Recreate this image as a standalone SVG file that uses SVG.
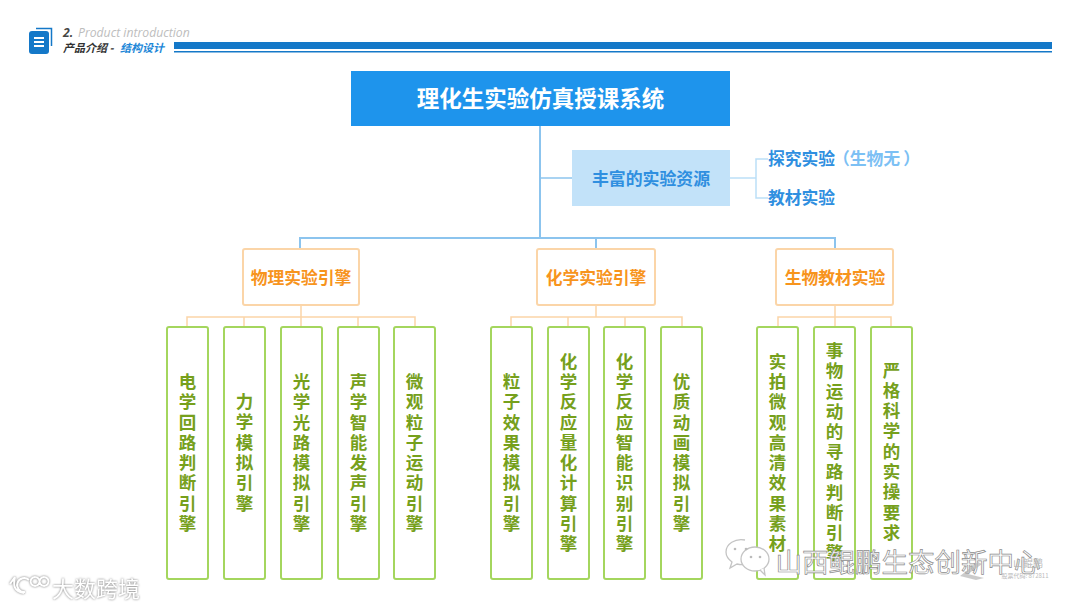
<svg xmlns="http://www.w3.org/2000/svg" width="1080" height="608" viewBox="0 0 1080 608">
<style>
text{font-family:"Noto Sans CJK SC","Noto Sans",sans-serif;font-weight:700;text-anchor:middle}
.leaf{fill:#fff;stroke:#a4d65e;stroke-width:2}
.lt{fill:#76a01c;font-size:17.5px}
.eng{fill:#fff;stroke:#fbd5a8;stroke-width:2}
.et{fill:#f7941d;font-size:16.8px}
.blue{fill:none;stroke:#8cc4ee;stroke-width:2}
.pale{fill:none;stroke:#bcdff7;stroke-width:1.5}
.org{fill:none;stroke:#fbd5a8;stroke-width:1.5}
.wm{fill:#fff;stroke:#8d8d8d;stroke-width:.7;font-weight:400}
.ic{fill:#fff;stroke:#c4c4c4;stroke-width:1.3}
.glow{filter:drop-shadow(0 0 1.2px #777)}
</style>
<rect width="1080" height="608" fill="#fff"/>
<g id="header">
<path d="M36 28.500H51.500V46" fill="none" stroke="#1478c8" stroke-width="1.500"/>
<rect x="29" y="31" width="20" height="23" rx="3" fill="#1478c8"/>
<path d="M34 37h10v2H34zM34 41h10v2H34zM34 45h10v2H34z" fill="#fff"/>
<text x="63" y="37" style="text-anchor:start;font-family:'Open Sans',sans-serif;font-size:12.200px;font-style:italic;font-weight:700" fill="#444">2.</text>
<text x="78" y="37" style="text-anchor:start;font-family:'Open Sans',sans-serif;font-size:12.200px;font-style:italic;font-weight:400" fill="#bdbdbd">Product introduction</text>
<text x="63" y="52" style="text-anchor:start;font-size:11px;font-style:italic" fill="#333">产品介绍 -</text>
<text x="120" y="52" style="text-anchor:start;font-size:11px;font-style:italic" fill="#1e88d8">结构设计</text>
<rect x="174" y="42" width="878" height="7" fill="#1478c8"/>
<rect x="174" y="51" width="878" height="1.500" fill="#1478c8"/>
</g>
<g id="connectors">
<path class="blue" d="M540 126V238M300 248V238H835V248M596 238V248"/>
<path class="blue" style="stroke-width:1.500" d="M540 178H572"/>
<path class="pale" d="M730 178H756V159H768M756 178V198H768"/>
<path class="org" d="M301 306V317M187 327V317H415V327M244 317V327M301 317V327M358 317V327"/>
<path class="org" d="M596 306V317M511 327V317H682V327M568 317V327M625 317V327"/>
<path class="org" d="M835 306V317M778 327V317H891V327M835 317V327"/>
</g>
<g id="root"><rect x="351" y="71" width="379" height="55" fill="#1e94ec"/><text x="540.500" y="107" font-size="22.500" fill="#fff">理化生实验仿真授课系统</text></g>
<g id="res"><rect x="572" y="150" width="158" height="56" fill="#c2e2f9"/><text x="651" y="184.500" font-size="16.900" fill="#2f8fe0">丰富的实验资源</text></g>
<g id="explore"><text x="768" y="165" font-size="16.800" fill="#2f8fe0" style="text-anchor:start">探究实验</text><text x="833" y="165" font-size="16.800" fill="#7cc0f4" style="text-anchor:start">（生物无<tspan dx="3">）</tspan></text></g>
<g id="textbook"><text x="768" y="204" font-size="16.800" fill="#2f8fe0" style="text-anchor:start">教材实验</text></g>
<g id="e1"><rect class="eng" x="243" y="249" width="116" height="56" rx="2"/><text class="et" x="301" y="284">物理实验引擎</text></g>
<g id="e2"><rect class="eng" x="537" y="249" width="118" height="56" rx="2"/><text class="et" x="596" y="284">化学实验引擎</text></g>
<g id="e3"><rect class="eng" x="776" y="249" width="117" height="56" rx="2"/><text class="et" x="835" y="284">生物教材实验</text></g>
<g id="l1"><rect class="leaf" x="167" y="327" width="41" height="252" rx="2"/><text class="lt"><tspan x="187.500" y="388">电</tspan><tspan x="187.500" y="408">学</tspan><tspan x="187.500" y="429">回</tspan><tspan x="187.500" y="449">路</tspan><tspan x="187.500" y="469">判</tspan><tspan x="187.500" y="489">断</tspan><tspan x="187.500" y="510">引</tspan><tspan x="187.500" y="530">擎</tspan></text></g>
<g id="l2"><rect class="leaf" x="224" y="327" width="41" height="252" rx="2"/><text class="lt"><tspan x="244.500" y="408">力</tspan><tspan x="244.500" y="428">学</tspan><tspan x="244.500" y="449">模</tspan><tspan x="244.500" y="469">拟</tspan><tspan x="244.500" y="489">引</tspan><tspan x="244.500" y="510">擎</tspan></text></g>
<g id="l3"><rect class="leaf" x="281" y="327" width="41" height="252" rx="2"/><text class="lt"><tspan x="301.500" y="388">光</tspan><tspan x="301.500" y="408">学</tspan><tspan x="301.500" y="429">光</tspan><tspan x="301.500" y="449">路</tspan><tspan x="301.500" y="469">模</tspan><tspan x="301.500" y="489">拟</tspan><tspan x="301.500" y="510">引</tspan><tspan x="301.500" y="530">擎</tspan></text></g>
<g id="l4"><rect class="leaf" x="338" y="327" width="41" height="252" rx="2"/><text class="lt"><tspan x="358.500" y="388">声</tspan><tspan x="358.500" y="408">学</tspan><tspan x="358.500" y="429">智</tspan><tspan x="358.500" y="449">能</tspan><tspan x="358.500" y="469">发</tspan><tspan x="358.500" y="489">声</tspan><tspan x="358.500" y="510">引</tspan><tspan x="358.500" y="530">擎</tspan></text></g>
<g id="l5"><rect class="leaf" x="394" y="327" width="41" height="252" rx="2"/><text class="lt"><tspan x="414.500" y="388">微</tspan><tspan x="414.500" y="408">观</tspan><tspan x="414.500" y="429">粒</tspan><tspan x="414.500" y="449">子</tspan><tspan x="414.500" y="469">运</tspan><tspan x="414.500" y="489">动</tspan><tspan x="414.500" y="510">引</tspan><tspan x="414.500" y="530">擎</tspan></text></g>
<g id="c1"><rect class="leaf" x="491" y="327" width="41" height="252" rx="2"/><text class="lt"><tspan x="511.500" y="388">粒</tspan><tspan x="511.500" y="408">子</tspan><tspan x="511.500" y="429">效</tspan><tspan x="511.500" y="449">果</tspan><tspan x="511.500" y="469">模</tspan><tspan x="511.500" y="489">拟</tspan><tspan x="511.500" y="510">引</tspan><tspan x="511.500" y="530">擎</tspan></text></g>
<g id="c2"><rect class="leaf" x="548" y="327" width="41" height="252" rx="2"/><text class="lt"><tspan x="568.500" y="368">化</tspan><tspan x="568.500" y="388">学</tspan><tspan x="568.500" y="408">反</tspan><tspan x="568.500" y="429">应</tspan><tspan x="568.500" y="449">量</tspan><tspan x="568.500" y="469">化</tspan><tspan x="568.500" y="489">计</tspan><tspan x="568.500" y="510">算</tspan><tspan x="568.500" y="530">引</tspan><tspan x="568.500" y="550">擎</tspan></text></g>
<g id="c3"><rect class="leaf" x="604" y="327" width="41" height="252" rx="2"/><text class="lt"><tspan x="624.500" y="368">化</tspan><tspan x="624.500" y="388">学</tspan><tspan x="624.500" y="408">反</tspan><tspan x="624.500" y="429">应</tspan><tspan x="624.500" y="449">智</tspan><tspan x="624.500" y="469">能</tspan><tspan x="624.500" y="489">识</tspan><tspan x="624.500" y="510">别</tspan><tspan x="624.500" y="530">引</tspan><tspan x="624.500" y="550">擎</tspan></text></g>
<g id="c4"><rect class="leaf" x="661" y="327" width="41" height="252" rx="2"/><text class="lt"><tspan x="681.500" y="388">优</tspan><tspan x="681.500" y="408">质</tspan><tspan x="681.500" y="429">动</tspan><tspan x="681.500" y="449">画</tspan><tspan x="681.500" y="469">模</tspan><tspan x="681.500" y="489">拟</tspan><tspan x="681.500" y="510">引</tspan><tspan x="681.500" y="530">擎</tspan></text></g>
<g id="b1"><rect class="leaf" x="757" y="327" width="41" height="252" rx="2"/><text class="lt"><tspan x="777.500" y="368">实</tspan><tspan x="777.500" y="388">拍</tspan><tspan x="777.500" y="408">微</tspan><tspan x="777.500" y="429">观</tspan><tspan x="777.500" y="449">高</tspan><tspan x="777.500" y="469">清</tspan><tspan x="777.500" y="489">效</tspan><tspan x="777.500" y="510">果</tspan><tspan x="777.500" y="530">素</tspan><tspan x="777.500" y="550">材</tspan></text></g>
<g id="b2"><rect class="leaf" x="814" y="327" width="41" height="252" rx="2"/><text class="lt"><tspan x="834.500" y="357">事</tspan><tspan x="834.500" y="377">物</tspan><tspan x="834.500" y="398">运</tspan><tspan x="834.500" y="418">动</tspan><tspan x="834.500" y="438">的</tspan><tspan x="834.500" y="458">寻</tspan><tspan x="834.500" y="478">路</tspan><tspan x="834.500" y="499">判</tspan><tspan x="834.500" y="519">断</tspan><tspan x="834.500" y="539">引</tspan><tspan x="834.500" y="559">擎</tspan></text></g>
<g id="b3"><rect class="leaf" x="871" y="327" width="41" height="252" rx="2"/><text class="lt"><tspan x="891.500" y="377">严</tspan><tspan x="891.500" y="397">格</tspan><tspan x="891.500" y="417">科</tspan><tspan x="891.500" y="437">学</tspan><tspan x="891.500" y="458">的</tspan><tspan x="891.500" y="478">实</tspan><tspan x="891.500" y="498">操</tspan><tspan x="891.500" y="519">要</tspan><tspan x="891.500" y="539">求</tspan></text></g>
<g id="watermark">
<path class="ic" d="M745 540c-10-2-19 4-19 12 0 4 2 7 6 10l-2 6 7-4c2 .5 4 1 6 .5"/>
<ellipse class="ic" cx="755" cy="559" rx="14" ry="12"/>
<path class="ic" d="M760 570l5 5-1-7"/>
<circle cx="735" cy="549" r="1.300" fill="#bbb"/><circle cx="746" cy="549" r="1.300" fill="#bbb"/><circle cx="751" cy="557" r="1.300" fill="#bbb"/><circle cx="760" cy="557" r="1.300" fill="#bbb"/>
<text class="wm" x="908" y="572" font-size="26.500">山西鲲鹏生态创新中心</text>
<path d="M960 576l18-14 4 2-14 10 16 4-8 2z" fill="#b5b5b5" opacity=".7"/>
<text x="1028" y="567" font-size="10" fill="#b8b8b8" style="font-weight:400">山鲲鹏</text>
<text x="1025" y="578" font-size="6" fill="#bbb" style="font-weight:400">股票代码: 872811</text>
<text class="glow" x="96" y="597" font-size="22" fill="#fff" style="font-weight:400">大数跨境</text>
<path class="glow" d="M15 577l-5 7M15 577c-2 8-1 15 9 16M29 580a7 7 0 1 0-4 12M35 577a4.500 4.500 0 1 0 .1 0M44 577a4.500 4.500 0 1 0 .1 0" fill="none" stroke="#fff" stroke-width="2"/>
</g>
</svg>
